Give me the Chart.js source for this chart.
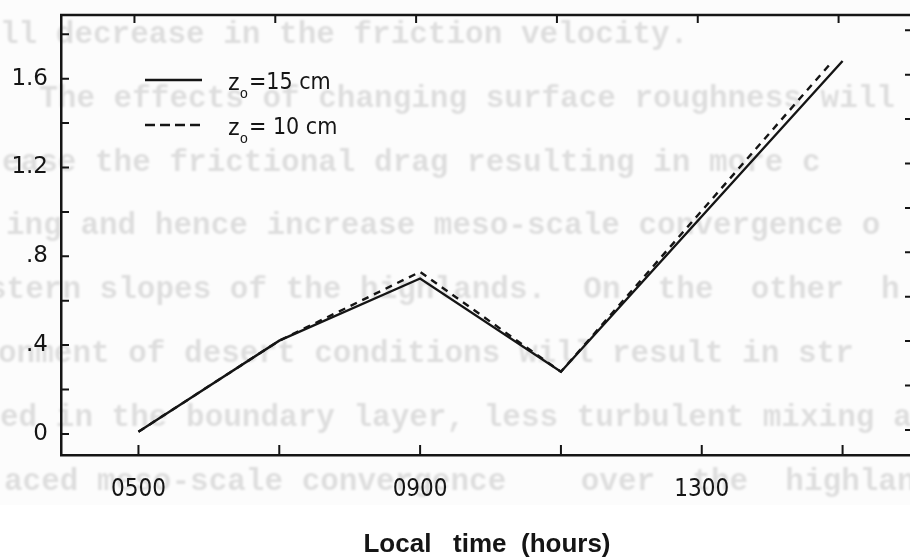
<!DOCTYPE html>
<html>
<head>
<meta charset="utf-8">
<script src="https://cdn.jsdelivr.net/npm/chart.js@4.4.1/dist/chart.umd.min.js"></script>
<style>
  html, body { margin: 0; padding: 0; background: #fff; overflow: hidden; }
  #wrap { position: relative; width: 916px; height: 560px; }
</style>
</head>
<body>
<div id="wrap"><canvas id="chart" width="916" height="560"></canvas></div>
<script>
// Data (local time in hours, value on y axis).
const hoursSolid = [5, 7, 9, 11, 15];
const valuesSolid = [0.01, 0.42, 0.70, 0.28, 1.68];
const hoursDashed = [5, 7, 9, 11, 14.86];
const valuesDashed = [0.01, 0.42, 0.73, 0.28, 1.68];

const seriesNames = ['=15 cm', '= 10 cm'];

const xTickHours = [5, 7, 9, 11, 13, 15];
const xLabelHours = [5, 9, 13];
const yTickValues = [0, 0.2, 0.4, 0.6, 0.8, 1.0, 1.2, 1.4, 1.6, 1.8];
const yLabelValues = [0, 0.4, 0.8, 1.2, 1.6];

// Typewritten text from the next page that shows through the scan.
const showThrough = [
    'll decrease in the friction velocity.',
    '  The effects of changing surface roughness will',
    'ease the frictional drag resulting in more c',
    'ing and hence increase meso-scale convergence o',
    'stern slopes of the highlands.  On  the  other  h',
    'onment of desert conditions will result in str',
    'ed in the boundary layer, less turbulent mixing a',
    'aced meso-scale convergence    over  the  highlands'
];
const showThroughX = [0, 2, 2, 6, -12, -2, 0, 4];

const INK = '#151515';

const toPoints = (xs, ys) => xs.map((x, i) => ({ x: x, y: ys[i] }));

const paper = {
    id: 'paper',
    beforeDraw(chart) {
        const { ctx } = chart;
        ctx.save();
        ctx.fillStyle = '#fcfcfc';
        ctx.fillRect(0, 0, chart.width, 505);
        ctx.fillStyle = '#ffffff';
        ctx.fillRect(0, 505, chart.width, chart.height - 505);

        // faint typewriter text bleeding through
        ctx.filter = 'blur(1.1px)';
        ctx.fillStyle = 'rgba(0, 0, 0, 0.12)';
        ctx.font = 'bold 31px "Liberation Mono", "DejaVu Sans Mono", monospace';
        ctx.textBaseline = 'alphabetic';
        showThrough.forEach((line, i) => {
            ctx.fillText(line, showThroughX[i], 43 + i * 63.8);
        });
        ctx.restore();
    }
};

const frame = {
    id: 'frame',
    afterDraw(chart) {
        const { ctx, chartArea } = chart;
        const xs = chart.scales.x;
        const ys = chart.scales.y;
        ctx.save();
        ctx.strokeStyle = INK;
        ctx.lineWidth = 2.5;
        ctx.lineCap = 'butt';

        // top border
        ctx.beginPath();
        ctx.moveTo(chartArea.left - 1, chartArea.top);
        ctx.lineTo(chartArea.right, chartArea.top);
        ctx.stroke();

        ctx.lineWidth = 2;
        ctx.beginPath();
        xTickHours.forEach(h => {
            const px = xs.getPixelForValue(h);
            ctx.moveTo(px, chartArea.bottom);
            ctx.lineTo(px, chartArea.bottom - 10);
            ctx.moveTo(px - 4, chartArea.top);
            ctx.lineTo(px - 4, chartArea.top + 8);
        });
        yTickValues.forEach(v => {
            const py = ys.getPixelForValue(v);
            ctx.moveTo(chartArea.left, py);
            ctx.lineTo(chartArea.left + 8, py);
            ctx.moveTo(chartArea.right - 8, py - 4);
            ctx.lineTo(chartArea.right, py - 4);
        });
        ctx.stroke();
        ctx.restore();
    }
};

const keyBox = {
    id: 'keyBox',
    afterDraw(chart) {
        const { ctx, chartArea } = chart;
        const x0 = chartArea.left + 84;
        const rows = [80, 125];
        ctx.save();
        ctx.strokeStyle = INK;
        ctx.fillStyle = INK;
        ctx.lineWidth = 2.5;
        chart.data.datasets.forEach((ds, i) => {
            const y = rows[i];
            ctx.setLineDash(i === 0 ? [] : [10, 5]);
            ctx.beginPath();
            ctx.moveTo(x0, y);
            ctx.lineTo(x0 + 57, y);
            ctx.stroke();
            ctx.setLineDash([]);

            ctx.textBaseline = 'alphabetic';
            ctx.font = '24px "Liberation Sans", Arial, sans-serif';
            ctx.fillText('z', x0 + 83, y + 10);
            ctx.font = '14px "Liberation Sans", Arial, sans-serif';
            ctx.fillText('o', x0 + 95, y + 18);
            ctx.font = '23px "DejaVu Sans Condensed", "DejaVu Sans", sans-serif';
            ctx.fillText(ds.label, x0 + 104, y + 9);
        });
        ctx.restore();
    }
};

new Chart(document.getElementById('chart').getContext('2d'), {
    type: 'line',
    data: {
        datasets: [{
            label: seriesNames[0],
            data: toPoints(hoursSolid, valuesSolid),
            borderColor: INK,
            borderWidth: 2.4,
            pointRadius: 0,
            tension: 0,
            fill: false
        }, {
            label: seriesNames[1],
            data: toPoints(hoursDashed, valuesDashed),
            borderColor: INK,
            borderWidth: 2.4,
            borderDash: [7, 6],
            pointRadius: 0,
            tension: 0,
            fill: false
        }]
    },
    options: {
        responsive: false,
        animation: false,
        events: [],
        layout: {
            padding: { top: 15, right: 3, left: 0, bottom: 0 }
        },
        plugins: {
            legend: { display: false },
            title: { display: false },
            tooltip: { enabled: false }
        },
        scales: {
            x: {
                type: 'linear',
                min: 3.9,
                max: 16.0,
                grid: { display: false, drawTicks: false },
                border: { display: true, color: INK, width: 2.5 },
                afterBuildTicks: (scale) => {
                    scale.ticks = xLabelHours.map(v => ({ value: v }));
                },
                afterFit: (scale) => {
                    scale.height = 105;
                    scale.paddingLeft = 0;
                    scale.paddingRight = 0;
                },
                ticks: {
                    autoSkip: false,
                    maxRotation: 0,
                    padding: 20,
                    color: INK,
                    font: { family: '"DejaVu Sans Condensed", "DejaVu Sans", sans-serif', size: 24 },
                    callback: (v) => String(v * 100).padStart(4, '0')
                },
                title: {
                    display: true,
                    text: 'Local   time  (hours)',
                    color: INK,
                    padding: { top: 0, bottom: 0 },
                    font: { family: '"Liberation Sans", Arial, sans-serif', size: 26, weight: 'bold' }
                }
            },
            y: {
                type: 'linear',
                min: -0.095,
                max: 1.887,
                grid: { display: false, drawTicks: false },
                border: { display: true, color: INK, width: 2.5 },
                afterBuildTicks: (scale) => {
                    scale.ticks = yLabelValues.map(v => ({ value: v }));
                },
                afterFit: (scale) => {
                    scale.width = 61;
                    scale.paddingTop = 0;
                    scale.paddingBottom = 0;
                },
                ticks: {
                    autoSkip: false,
                    padding: 13,
                    color: INK,
                    font: { family: '"DejaVu Sans", sans-serif', size: 23 },
                    callback: (v) => v === 0 ? '0' : v.toFixed(1).replace(/^0/, '')
                }
            }
        }
    },
    plugins: [paper, frame, keyBox]
});
</script>
</body>
</html>
